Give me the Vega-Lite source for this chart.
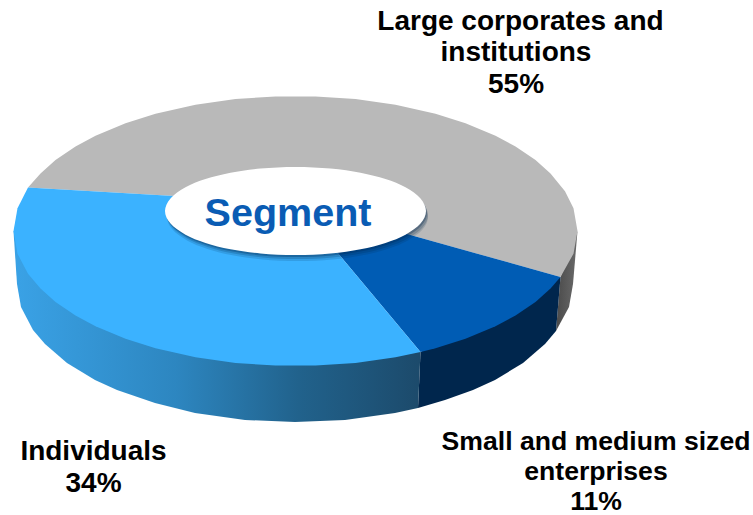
{"$schema":"https://vega.github.io/schema/vega-lite/v6.json","width":753,"height":515,"padding":0,"autosize":{"type":"none"},"background":"white","config":{"view":{"stroke":null}},
"datasets":{"outline":[
{"part":"sideLight","i":0,"x":13.5,"y":231},{"part":"sideLight","i":1,"x":17,"y":284},{"part":"sideLight","i":2,"x":21,"y":307},{"part":"sideLight","i":3,"x":33,"y":330},{"part":"sideLight","i":4,"x":45,"y":344},{"part":"sideLight","i":5,"x":67,"y":363},{"part":"sideLight","i":6,"x":95,"y":380},{"part":"sideLight","i":7,"x":117,"y":390},{"part":"sideLight","i":8,"x":155,"y":403},{"part":"sideLight","i":9,"x":195,"y":413},{"part":"sideLight","i":10,"x":245,"y":420},{"part":"sideLight","i":11,"x":295,"y":422},{"part":"sideLight","i":12,"x":345,"y":420},{"part":"sideLight","i":13,"x":395,"y":413},{"part":"sideLight","i":14,"x":418,"y":408},{"part":"sideLight","i":15,"x":420.5,"y":352},
{"part":"sideDark","i":0,"x":420.5,"y":352},{"part":"sideDark","i":1,"x":418,"y":408},{"part":"sideDark","i":2,"x":445,"y":400},{"part":"sideDark","i":3,"x":473,"y":390},{"part":"sideDark","i":4,"x":495,"y":380},{"part":"sideDark","i":5,"x":523,"y":363},{"part":"sideDark","i":6,"x":545,"y":344},{"part":"sideDark","i":7,"x":556,"y":331},{"part":"sideDark","i":8,"x":560.5,"y":277},
{"part":"sideGray","i":0,"x":560.5,"y":277},{"part":"sideGray","i":1,"x":556,"y":331},{"part":"sideGray","i":2,"x":569,"y":307},{"part":"sideGray","i":3,"x":573,"y":284},{"part":"sideGray","i":4,"x":577.5,"y":231},
{"part":"topGray","i":0,"x":296,"y":203},{"part":"topGray","i":1,"x":28,"y":187.5},{"part":"topGray","i":2,"x":40.5,"y":173.4},{"part":"topGray","i":3,"x":55.5,"y":160.1},{"part":"topGray","i":4,"x":75.5,"y":146.5},{"part":"topGray","i":5,"x":95.5,"y":135.8},{"part":"topGray","i":6,"x":125.5,"y":123.3},{"part":"topGray","i":7,"x":155.5,"y":113.8},{"part":"topGray","i":8,"x":195.5,"y":104.8},{"part":"topGray","i":9,"x":235.5,"y":99.1},{"part":"topGray","i":10,"x":275.5,"y":96.4},{"part":"topGray","i":11,"x":315.5,"y":96.4},{"part":"topGray","i":12,"x":355.5,"y":99.1},{"part":"topGray","i":13,"x":395.5,"y":104.8},{"part":"topGray","i":14,"x":435.5,"y":113.8},{"part":"topGray","i":15,"x":465.5,"y":123.3},{"part":"topGray","i":16,"x":495.5,"y":135.8},{"part":"topGray","i":17,"x":515.5,"y":146.5},{"part":"topGray","i":18,"x":535.5,"y":160.1},{"part":"topGray","i":19,"x":550.5,"y":173.4},{"part":"topGray","i":20,"x":565,"y":191.3},{"part":"topGray","i":21,"x":573.5,"y":208.3},{"part":"topGray","i":22,"x":577.5,"y":231},{"part":"topGray","i":23,"x":573.5,"y":253.7},{"part":"topGray","i":24,"x":560.5,"y":277},
{"part":"topDark","i":0,"x":296,"y":203},{"part":"topDark","i":1,"x":560.5,"y":277},{"part":"topDark","i":2,"x":550.5,"y":288.6},{"part":"topDark","i":3,"x":535.5,"y":301.9},{"part":"topDark","i":4,"x":515.5,"y":315.5},{"part":"topDark","i":5,"x":495.5,"y":326.2},{"part":"topDark","i":6,"x":465.5,"y":338.7},{"part":"topDark","i":7,"x":435.5,"y":348.2},{"part":"topDark","i":8,"x":420.5,"y":352},
{"part":"topLight","i":0,"x":296,"y":203},{"part":"topLight","i":1,"x":420.5,"y":352},{"part":"topLight","i":2,"x":395.5,"y":357.2},{"part":"topLight","i":3,"x":355.5,"y":362.9},{"part":"topLight","i":4,"x":315.5,"y":365.6},{"part":"topLight","i":5,"x":275.5,"y":365.6},{"part":"topLight","i":6,"x":235.5,"y":362.9},{"part":"topLight","i":7,"x":195.5,"y":357.2},{"part":"topLight","i":8,"x":155.5,"y":348.2},{"part":"topLight","i":9,"x":125.5,"y":338.7},{"part":"topLight","i":10,"x":95.5,"y":326.2},{"part":"topLight","i":11,"x":75.5,"y":315.5},{"part":"topLight","i":12,"x":55.5,"y":301.9},{"part":"topLight","i":13,"x":40.5,"y":288.6},{"part":"topLight","i":14,"x":28,"y":273.8},{"part":"topLight","i":15,"x":17.5,"y":253.7},{"part":"topLight","i":16,"x":13.5,"y":231},{"part":"topLight","i":17,"x":17.5,"y":208.3},{"part":"topLight","i":18,"x":28,"y":187.5},
{"part":"badge","i":0,"x":165,"y":211},{"part":"badge","i":1,"x":170.5,"y":198.4},{"part":"badge","i":2,"x":185.5,"y":187.3},{"part":"badge","i":3,"x":205.5,"y":179.1},{"part":"badge","i":4,"x":230.5,"y":172.8},{"part":"badge","i":5,"x":260.5,"y":168.6},{"part":"badge","i":6,"x":295.5,"y":167},{"part":"badge","i":7,"x":330.5,"y":168.6},{"part":"badge","i":8,"x":360.5,"y":172.8},{"part":"badge","i":9,"x":385.5,"y":179.1},{"part":"badge","i":10,"x":405.5,"y":187.3},{"part":"badge","i":11,"x":420.5,"y":198.4},{"part":"badge","i":12,"x":426,"y":211},{"part":"badge","i":13,"x":420.5,"y":223.6},{"part":"badge","i":14,"x":405.5,"y":234.7},{"part":"badge","i":15,"x":385.5,"y":242.9},{"part":"badge","i":16,"x":360.5,"y":249.2},{"part":"badge","i":17,"x":330.5,"y":253.4},{"part":"badge","i":18,"x":295.5,"y":255},{"part":"badge","i":19,"x":260.5,"y":253.4},{"part":"badge","i":20,"x":230.5,"y":249.2},{"part":"badge","i":21,"x":205.5,"y":242.9},{"part":"badge","i":22,"x":185.5,"y":234.7},{"part":"badge","i":23,"x":170.5,"y":223.6}
],
"labels":[
{"kind":"share","label":"Large corporates and","x":520.5,"y":22},
{"kind":"share","label":"institutions\n55%","x":516,"y":53},
{"kind":"share","label":"Individuals\n34%","x":93.5,"y":452},
{"kind":"minor","label":"Small and medium sized\nenterprises\n11%","x":596,"y":442},
{"kind":"title","label":"Segment","x":288,"y":214}
]},
"encoding":{"x":{"field":"x","type":"quantitative","scale":{"domain":[0,753]},"axis":null},"y":{"field":"y","type":"quantitative","scale":{"domain":[0,515],"reverse":true},"axis":null}},
"layer":[
{"data":{"name":"outline"},"transform":[{"filter":"datum.part==='sideGray'"}],"mark":{"type":"line","filled":true,"strokeWidth":0,"fill":{"gradient":"linear","x1":0,"y1":0,"x2":1,"y2":0,"stops":[{"offset":0,"color":"#4a4a4a"},{"offset":1,"color":"#6a6a6a"}]}},"encoding":{"order":{"field":"i"}}},
{"data":{"name":"outline"},"transform":[{"filter":"datum.part==='sideDark'"}],"mark":{"type":"line","filled":true,"strokeWidth":0,"fill":"#00264d"},"encoding":{"order":{"field":"i"}}},
{"data":{"name":"outline"},"transform":[{"filter":"datum.part==='sideLight'"}],"mark":{"type":"line","filled":true,"strokeWidth":0,"fill":{"gradient":"linear","x1":0,"y1":0,"x2":1,"y2":0,"stops":[{"offset":0,"color":"#3aa2e6"},{"offset":0.4,"color":"#2d86c0"},{"offset":0.7,"color":"#21628c"},{"offset":1,"color":"#1c4a6b"}]}},"encoding":{"order":{"field":"i"}}},
{"data":{"name":"outline"},"transform":[{"filter":"datum.part==='topGray'"}],"mark":{"type":"line","filled":true,"strokeWidth":0,"fill":"#b9b9b9"},"encoding":{"order":{"field":"i"}}},
{"data":{"name":"outline"},"transform":[{"filter":"datum.part==='topDark'"}],"mark":{"type":"line","filled":true,"strokeWidth":0,"fill":"#005cb4"},"encoding":{"order":{"field":"i"}}},
{"data":{"name":"outline"},"transform":[{"filter":"datum.part==='topLight'"}],"mark":{"type":"line","filled":true,"strokeWidth":0,"fill":"#3bb2ff"},"encoding":{"order":{"field":"i"}}},
{"data":{"name":"outline"},"transform":[{"filter":"datum.part==='badge'"}],"mark":{"type":"line","interpolate":"cardinal-closed","filled":true,"strokeWidth":0,"fill":"#00264d","fillOpacity":0.15,"xOffset":2,"yOffset":6},"encoding":{"order":{"field":"i"}}},
{"data":{"name":"outline"},"transform":[{"filter":"datum.part==='badge'"}],"mark":{"type":"line","interpolate":"cardinal-closed","filled":true,"strokeWidth":0,"fill":"#00264d","fillOpacity":0.2,"xOffset":2,"yOffset":4},"encoding":{"order":{"field":"i"}}},
{"data":{"name":"outline"},"transform":[{"filter":"datum.part==='badge'"}],"mark":{"type":"line","interpolate":"cardinal-closed","filled":true,"strokeWidth":0,"fill":"#00264d","fillOpacity":0.3,"xOffset":1,"yOffset":2},"encoding":{"order":{"field":"i"}}},
{"data":{"name":"outline"},"transform":[{"filter":"datum.part==='badge'"}],"mark":{"type":"line","interpolate":"cardinal-closed","filled":true,"strokeWidth":0,"fill":"#ffffff"},"encoding":{"order":{"field":"i"}}},
{"data":{"name":"labels"},"transform":[{"filter":"datum.kind==='share'"}],"mark":{"type":"text","font":"Liberation Sans","fontWeight":"bold","fontSize":28,"lineHeight":31.5,"lineBreak":"\n","align":"center","baseline":"middle","color":"#000000"},"encoding":{"text":{"field":"label"}}},
{"data":{"name":"labels"},"transform":[{"filter":"datum.kind==='minor'"}],"mark":{"type":"text","font":"Liberation Sans","fontWeight":"bold","fontSize":26.6,"lineHeight":30,"lineBreak":"\n","align":"center","baseline":"middle","color":"#000000"},"encoding":{"text":{"field":"label"}}},
{"data":{"name":"labels"},"transform":[{"filter":"datum.kind==='title'"}],"mark":{"type":"text","font":"Liberation Sans","fontWeight":"bold","fontSize":39.5,"align":"center","baseline":"middle","color":"#0a5cb4"},"encoding":{"text":{"field":"label"}}}
]}
